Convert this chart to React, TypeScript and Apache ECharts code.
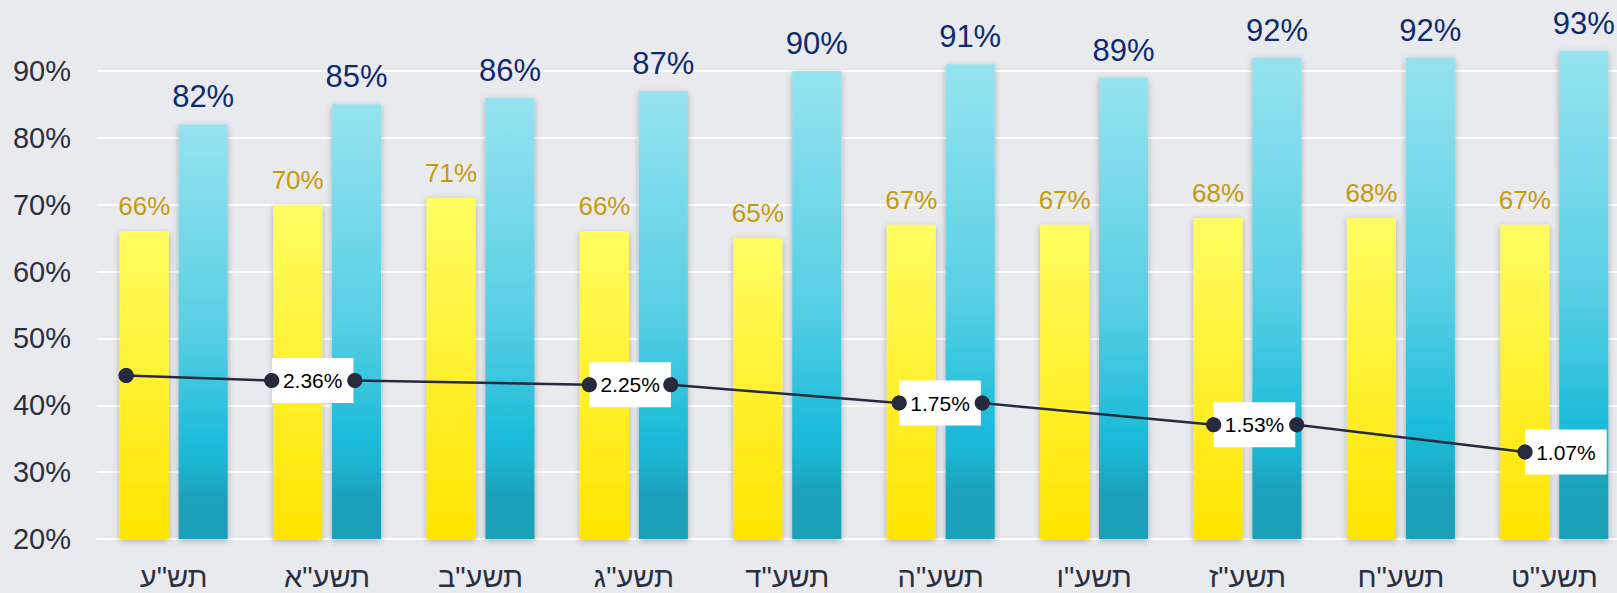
import React, { useEffect, useRef } from "react";
import * as echarts from "echarts";

const categories = ['תש"ע', 'תשע"א', 'תשע"ב', 'תשע"ג', 'תשע"ד', 'תשע"ה', 'תשע"ו', 'תשע"ז', 'תשע"ח', 'תשע"ט'];
const yellowValues = [66, 70, 71, 66, 65, 67, 67, 68, 68, 67];
const cyanValues = [82, 85, 86, 87, 90, 91, 89, 92, 92, 93];
const linePositions = [-0.31, 0.64, 1.18, 2.71, 3.24, 4.73, 5.27, 6.78, 7.32, 8.81];
const lineValues = [44.45, 43.7, 43.7, 43.06, 43.06, 40.33, 40.33, 37.08, 37.08, 33.0];
const lineLabels = ["", "2.36%", "", "2.25%", "", "1.75%", "", "1.53%", "", "1.07%"];
const yTicks = { min: 20, max: 100, interval: 10 };

const FONT = "'Liberation Sans', Arial, sans-serif";

export default function App() {
  const ref = useRef<HTMLDivElement>(null);
  useEffect(() => {
    if (!ref.current) return;
    const chart = echarts.init(ref.current, null, { renderer: "svg" });
    const linePoints = linePositions.map((x, i) => ({
      value: [x, lineValues[i]],
      label: { show: lineLabels[i] !== "", formatter: lineLabels[i] },
    }));
    chart.setOption({
      animation: false,
      backgroundColor: "#e9eaee",
      textStyle: { fontFamily: FONT },
      grid: {
        left: 97,
        top: 4,
        width: 1534,
        height: 535,
        containLabel: false,
        outerBoundsMode: "none",
      },
      xAxis: [
        {
          type: "category",
          data: categories,
          axisLine: { show: true, lineStyle: { color: "#ffffff", width: 2 } },
          axisTick: { show: false },
          axisLabel: { color: "#2b2f3f", fontSize: 29, margin: 23, fontFamily: FONT },
        },
        { type: "value", min: -0.5, max: 9.5, show: false },
      ],
      yAxis: {
        type: "value",
        min: yTicks.min,
        max: yTicks.max,
        interval: yTicks.interval,
        axisLine: { show: false },
        axisTick: { show: false },
        splitLine: { show: true, showMaxLine: false, lineStyle: { color: "#ffffff", width: 2 } },
        axisLabel: {
          showMaxLabel: false,
          color: "#2b2f3f",
          fontSize: 29,
          margin: 26,
          fontFamily: FONT,
          formatter: "{value}%",
        },
      },
      series: [
        {
          type: "bar",
          data: yellowValues,
          barWidth: "32%",
          barGap: "20%",
          itemStyle: {
            color: new echarts.graphic.LinearGradient(0, 0, 0, 1, [
              { offset: 0, color: "#fffd62" },
              { offset: 1, color: "#ffe400" },
            ]),
            shadowBlur: 6,
            shadowColor: "rgba(0,0,0,0.28)",
            shadowOffsetY: 2,
          },
          label: {
            show: true,
            position: "top",
            distance: 12,
            formatter: "{c}%",
            color: "#c49a0a",
            fontSize: 26,
            fontFamily: FONT,
          },
        },
        {
          type: "bar",
          data: cyanValues,
          barWidth: "32%",
          barGap: "20%",
          itemStyle: {
            color: new echarts.graphic.LinearGradient(0, 0, 0, 1, [
              { offset: 0, color: "#96e3ef" },
              { offset: 0.5, color: "#58cfe4" },
              { offset: 0.76, color: "#1ebcda" },
              { offset: 0.82, color: "#1db5d2" },
              { offset: 0.9, color: "#1aa1ba" },
              { offset: 1, color: "#1a9fb8" },
            ]),
            shadowBlur: 6,
            shadowColor: "rgba(0,0,0,0.28)",
            shadowOffsetY: 2,
          },
          label: {
            show: true,
            position: "top",
            distance: 12,
            formatter: "{c}%",
            color: "#0e2a6e",
            fontSize: 31,
            fontFamily: FONT,
          },
        },
        {
          type: "line",
          xAxisIndex: 1,
          data: linePoints,
          z: 3,
          symbol: "circle",
          symbolSize: 15,
          lineStyle: { color: "#252a3d", width: 2.5 },
          itemStyle: { color: "#252a3d" },
          label: {
            position: "right",
            distance: -7.5,
            color: "#000000",
            fontSize: 21,
            fontFamily: FONT,
            backgroundColor: "#ffffff",
            padding: [12, 11, 12, 11],
          },
        },
        {
          type: "scatter",
          xAxisIndex: 1,
          z: 6,
          data: linePositions.map((x, i) => [x, lineValues[i]]),
          symbol: "circle",
          symbolSize: 15,
          itemStyle: { color: "#252a3d", opacity: 1 },
        },
      ],
    });
    return () => chart.dispose();
  }, []);
  return (
    <div
      ref={ref}
      style={{ position: "absolute", left: 0, top: 0, width: 1617, height: 593 }}
    />
  );
}
